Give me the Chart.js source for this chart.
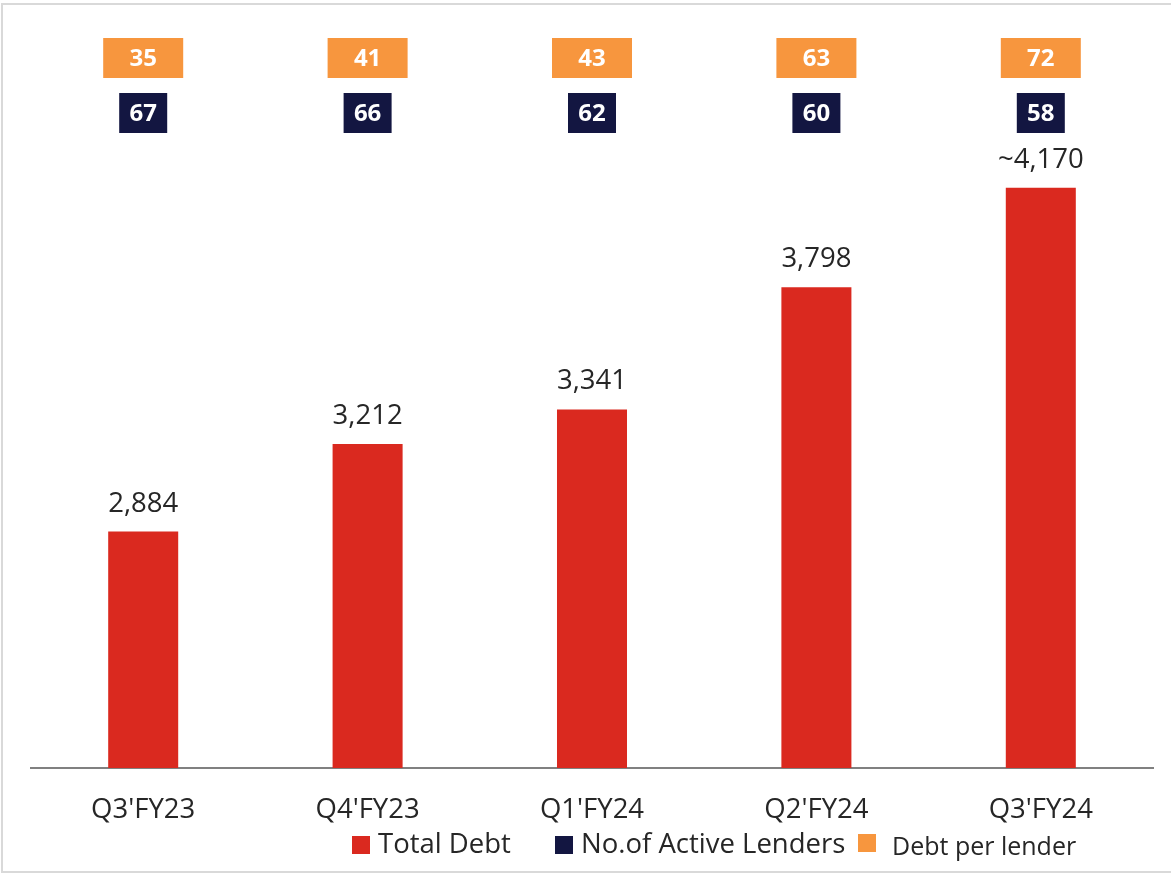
<!DOCTYPE html>
<html>
<head>
<meta charset="utf-8">
<script src="https://cdn.jsdelivr.net/npm/chart.js@4"></script>
<style>
  html, body { margin: 0; padding: 0; background: #fff; }
</style>
</head>
<body>
<canvas id="myChart" width="1171" height="874"></canvas>
<script>
// data
const quarters = ["Q3'FY23", "Q4'FY23", "Q1'FY24", "Q2'FY24", "Q3'FY24"]
const totalDebt = [2884, 3212, 3341, 3798, 4170]
const debtLabels = ['2,884', '3,212', '3,341', '3,798', '~4,170']
const activeLenders = [67, 66, 62, 60, 58]
const debtPerLender = [35, 41, 43, 63, 72]
const legendNames = ['Total Debt', 'No.of Active Lenders', 'Debt per lender']
const legendColors = ['#DA291F', '#131641', '#F7963E']

// where the legend items start (box left edge)
const legendX = [352, 555, 858]

const extras = {
  id: 'extras',
  beforeDraw(chart) {
    const ctx = chart.ctx
    ctx.save()
    ctx.fillStyle = '#fff'
    ctx.fillRect(0, 0, chart.width, chart.height)
    ctx.strokeStyle = '#d9d9d9'
    ctx.lineWidth = 2
    ctx.strokeRect(2, 4, chart.width + 10, 868)
    ctx.restore()
  },
  afterDatasetsDraw(chart) {
    const ctx = chart.ctx
    const meta = chart.getDatasetMeta(0)
    ctx.save()
    ctx.textAlign = 'center'
    meta.data.forEach((bar, i) => {
      // value above the bar
      ctx.font = '27.5px "Open Sans"'
      ctx.fillStyle = '#262626'
      ctx.textBaseline = 'alphabetic'
      ctx.fillText(debtLabels[i], bar.x, bar.y - 20)

      // debt per lender / active lenders boxes
      ctx.fillStyle = legendColors[2]
      ctx.fillRect(bar.x - 40, 38, 80, 40)
      ctx.fillStyle = legendColors[1]
      ctx.fillRect(bar.x - 24, 93, 48, 40)
      ctx.fillStyle = '#fff'
      ctx.font = 'bold 24px "Open Sans"'
      ctx.textBaseline = 'middle'
      ctx.fillText(debtPerLender[i], bar.x, 59)
      ctx.fillText(activeLenders[i], bar.x, 114)
    })

    // legend
    ctx.textAlign = 'left'
    ctx.textBaseline = 'alphabetic'
    legendNames.forEach((name, i) => {
      const small = i === 2
      ctx.fillStyle = legendColors[i]
      ctx.fillRect(legendX[i], small ? 834 : 836, 18, 18)
      ctx.fillStyle = '#262626'
      ctx.font = (small ? '25px' : '27.5px') + ' "Open Sans"'
      ctx.fillText(name, legendX[i] + (small ? 34 : 26), small ? 855 : 853)
    })
    ctx.restore()
  }
}

new Chart(document.getElementById('myChart'), {
  type: 'bar',
  data: {
    labels: quarters,
    datasets: [{
      label: legendNames[0],
      data: totalDebt,
      backgroundColor: legendColors[0],
      barPercentage: 0.312,
      categoryPercentage: 1
    }]
  },
  options: {
    responsive: false,
    animation: false,
    layout: { padding: { left: 31, right: 18, top: 46, bottom: 29 } },
    plugins: {
      legend: { display: false },
      tooltip: { enabled: false }
    },
    scales: {
      x: {
        grid: { display: false },
        border: { display: true, color: '#808080', width: 2 },
        ticks: {
          color: '#262626',
          font: { family: 'Open Sans', size: 27.5 },
          padding: 18
        }
      },
      y: { display: false, min: 2000, max: 4700 }
    }
  },
  plugins: [extras]
})
</script>
</body>
</html>
